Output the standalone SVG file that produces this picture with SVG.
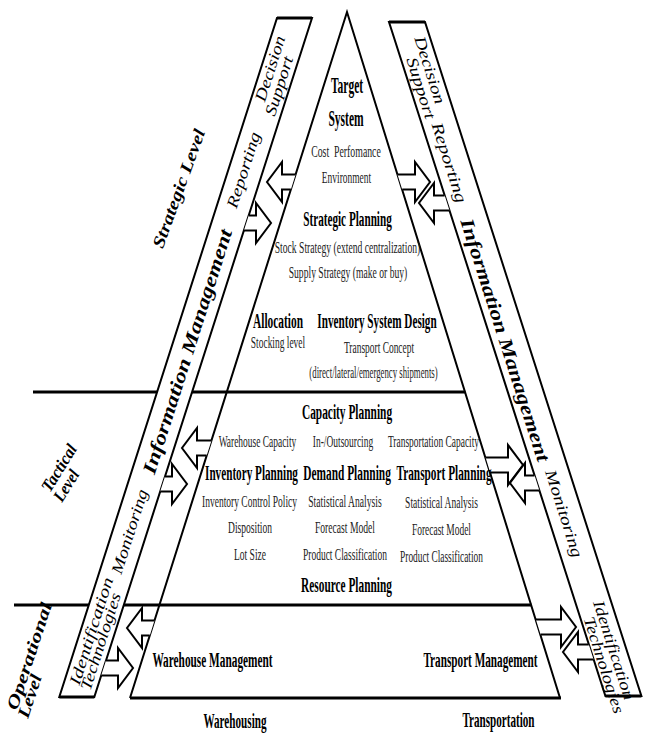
<svg xmlns="http://www.w3.org/2000/svg" width="650" height="733" viewBox="0 0 650 733">
<style>
.ln{fill:none;stroke:#000;stroke-width:2}
.thk{fill:none;stroke:#000;stroke-width:3}
.band{fill:#fff;stroke:#000;stroke-width:2;stroke-linejoin:miter}
.arr{fill:#fff;stroke:#000;stroke-width:2;stroke-linejoin:miter}
text{font-family:"Liberation Serif","Times New Roman",serif;fill:#000}
.h{font-weight:bold;font-size:20px;text-anchor:middle}
.hb{font-weight:bold;font-size:24px;text-anchor:middle}
.hm{font-weight:bold;font-size:21px;text-anchor:middle}
.r{font-size:17.5px;text-anchor:middle;fill:#222}
.bi{font-style:italic;font-size:16px;text-anchor:middle;dominant-baseline:central}
.bb{font-style:italic;font-weight:bold;font-size:19px;text-anchor:middle;dominant-baseline:central}
.lv{font-style:italic;font-weight:bold;font-size:17px}
</style>
<rect width="650" height="733" fill="#fff"/>
<g id="level-lines">
<path class="thk" d="M33,392 H465.2"/>
<path class="thk" d="M14,605 H531.4"/>
</g>
<g id="pyramid">
<path class="ln" d="M130,698 L347,12 L560,698"/>
<path class="thk" d="M130,698 H561"/>
</g>
<g id="left-band">
<polygon class="band" points="277,18 312,18 94.3,697 59.3,697"/>
<path class="thk" d="M277,18 H312 M59.3,697 H94.3"/>
<text class="bi" transform="translate(270,68.5) rotate(-72.3) scale(1.195,1)">Decision</text>
<text class="bi" transform="translate(279,86) rotate(-72.3) scale(1.22,1)">Support</text>
<text class="bi" transform="translate(243.5,170) rotate(-72.3) scale(1.234,1)">Reporting</text>
<text class="bb" transform="translate(187.5,351.5) rotate(-72.3) scale(1.253,1)">Information Management</text>
<text class="bi" transform="translate(129.5,531.5) rotate(-72.3) scale(1.207,1)">Monitoring</text>
<text class="bi" transform="translate(91,631) rotate(-72.3) scale(1.3,1)">Identification</text>
<text class="bi" transform="translate(100.5,641.5) rotate(-72.3) scale(1.207,1)">Technologies</text>
</g>
<g id="right-band">
<polygon class="band" points="389,22 425,22 641.4,696 605.4,696"/>
<path class="thk" d="M389,22 H425 M605.4,696 H641.4"/>
<text class="bi" transform="translate(430,70) rotate(72.2) scale(1.23,1)">Decision</text>
<text class="bi" transform="translate(421,88) rotate(72.2) scale(1.26,1)">Support</text>
<text class="bi" transform="translate(449.5,162.5) rotate(72.2) scale(1.3,1)">Reporting</text>
<text class="bb" transform="translate(505,340) rotate(72.2) scale(1.243,1)">Information Management</text>
<text class="bi" transform="translate(564,513.5) rotate(72.2) scale(1.248,1)">Monitoring</text>
<text class="bi" transform="translate(614,650) rotate(72.2) scale(1.2,1)">Identification</text>
<text class="bi" transform="translate(604,665) rotate(72.2) scale(1.2,1)">Technologies</text>
</g>
<g id="connectors">
<path class="arr" d="M295.6,174.5 L282,174.5 L282,162 L267,182 L282,202 L282,189.5 L290.9,189.5"/>
<path class="arr" d="M248.7,215.5 L256,215.5 L256,203 L271,223 L256,243 L256,230.5 L243.9,230.5"/>
<path class="arr" d="M397.5,174.5 L415,174.5 L415,162 L430,182 L415,202 L415,189.5 L402.2,189.5"/>
<path class="arr" d="M444.7,195.5 L434,195.5 L434,183 L419,203 L434,223 L434,210.5 L449.5,210.5"/>
<path class="arr" d="M211.5,440.5 L197,440.5 L197,428 L182,448 L197,468 L197,455.5 L206.7,455.5"/>
<path class="arr" d="M165,476.5 L172,476.5 L172,464 L187,484 L172,504 L172,491.5 L160.2,491.5"/>
<path class="arr" d="M485.6,457.5 L508,457.5 L508,445 L523,465 L508,485 L508,472.5 L490.2,472.5"/>
<path class="arr" d="M534.6,475.5 L525,475.5 L525,463 L510,483 L525,503 L525,490.5 L539.4,490.5"/>
<path class="arr" d="M154.5,620.5 L142,620.5 L142,608 L127,628 L142,648 L142,635.5 L149.8,635.5"/>
<path class="arr" d="M106,660.5 L118,660.5 L118,648 L133,668 L118,688 L118,675.5 L101.2,675.5"/>
<path class="arr" d="M535.9,619.5 L561,619.5 L561,607 L576,627 L561,647 L561,634.5 L540.6,634.5"/>
<path class="arr" d="M588.8,644.5 L578,644.5 L578,632 L563,652 L578,672 L578,659.5 L593.6,659.5"/>
</g>
<g id="levels">
<text class="lv" text-anchor="middle" dominant-baseline="central" transform="translate(178.5,188.5) rotate(-70) scale(1.2,1)">Strategic Level</text>
<text class="lv" transform="translate(50,493) rotate(-58) scale(0.95,1)">Tactical</text>
<text class="lv" transform="translate(62,503) rotate(-58) scale(0.9,1)">Level</text>
<text class="lv" transform="translate(17,711) rotate(-71.7) scale(1.33,1)">Operational</text>
<text class="lv" transform="translate(28,719) rotate(-71.7) scale(1.18,1)">Level</text>
</g>
<g id="target-system">
<text class="hb" transform="translate(347,93) scale(0.48,1)">Target</text>
<text class="hb" transform="translate(346,126) scale(0.48,1)">System</text>
<text class="r" style="white-space:pre" transform="translate(346,157) scale(0.56,1)">Cost  Perfomance</text>
<text class="r" transform="translate(346.5,183) scale(0.54,1)">Environment</text>
</g>
<g id="strategic-planning">
<text class="h" transform="translate(347.5,226) scale(0.56,1)">Strategic Planning</text>
<text class="r" font-size="17" transform="translate(347.5,253) scale(0.55,1)">Stock Strategy (extend centralization)</text>
<text class="r" font-size="17" transform="translate(348,278) scale(0.55,1)">Supply Strategy (make or buy)</text>
</g>
<g id="allocation">
<text class="h" transform="translate(278,328) scale(0.57,1)">Allocation</text>
<text class="r" transform="translate(278,348) scale(0.54,1)">Stocking level</text>
</g>
<g id="inventory-system-design">
<text class="h" transform="translate(377,328) scale(0.56,1)">Inventory System Design</text>
<text class="r" transform="translate(379,353) scale(0.54,1)">Transport Concept</text>
<text class="r" transform="translate(373.5,378) scale(0.5,1)">(direct/lateral/emergency shipments)</text>
</g>
<g id="capacity-planning">
<text class="h" transform="translate(347,419) scale(0.57,1)">Capacity Planning</text>
<text class="r" transform="translate(257.5,447) scale(0.54,1)">Warehouse Capacity</text>
<text class="r" transform="translate(343,447) scale(0.54,1)">In-/Outsourcing</text>
<text class="r" transform="translate(433.5,447) scale(0.54,1)">Transportation Capacity</text>
</g>
<g id="inventory-planning">
<text class="h" transform="translate(251.5,480) scale(0.56,1)">Inventory Planning</text>
<text class="r" transform="translate(249.5,507) scale(0.543,1)">Inventory Control Policy</text>
<text class="r" transform="translate(250,533) scale(0.545,1)">Disposition</text>
<text class="r" transform="translate(250,560) scale(0.544,1)">Lot Size</text>
</g>
<g id="demand-planning">
<text class="h" transform="translate(347,480) scale(0.57,1)">Demand Planning</text>
<text class="r" transform="translate(345,507) scale(0.55,1)">Statistical Analysis</text>
<text class="r" transform="translate(345,533) scale(0.55,1)">Forecast Model</text>
<text class="r" transform="translate(345,560) scale(0.542,1)">Product Classification</text>
</g>
<g id="transport-planning">
<text class="h" transform="translate(444,480) scale(0.566,1)">Transport Planning</text>
<text class="r" transform="translate(441.5,508) scale(0.545,1)">Statistical Analysis</text>
<text class="r" transform="translate(441.5,535) scale(0.54,1)">Forecast Model</text>
<text class="r" transform="translate(441.5,562) scale(0.535,1)">Product Classification</text>
</g>
<g id="resource-planning">
<text class="h" transform="translate(346.5,592) scale(0.567,1)">Resource Planning</text>
</g>
<g id="warehouse-management">
<text class="hm" transform="translate(212.5,667) scale(0.539,1)">Warehouse Management</text>
</g>
<g id="transport-management">
<text class="hm" transform="translate(480.5,667) scale(0.534,1)">Transport Management</text>
</g>
<g id="warehousing">
<text class="hm" transform="translate(235,728) scale(0.532,1)">Warehousing</text>
</g>
<g id="transportation">
<text class="hm" transform="translate(498.5,727) scale(0.53,1)">Transportation</text>
</g>
</svg>
